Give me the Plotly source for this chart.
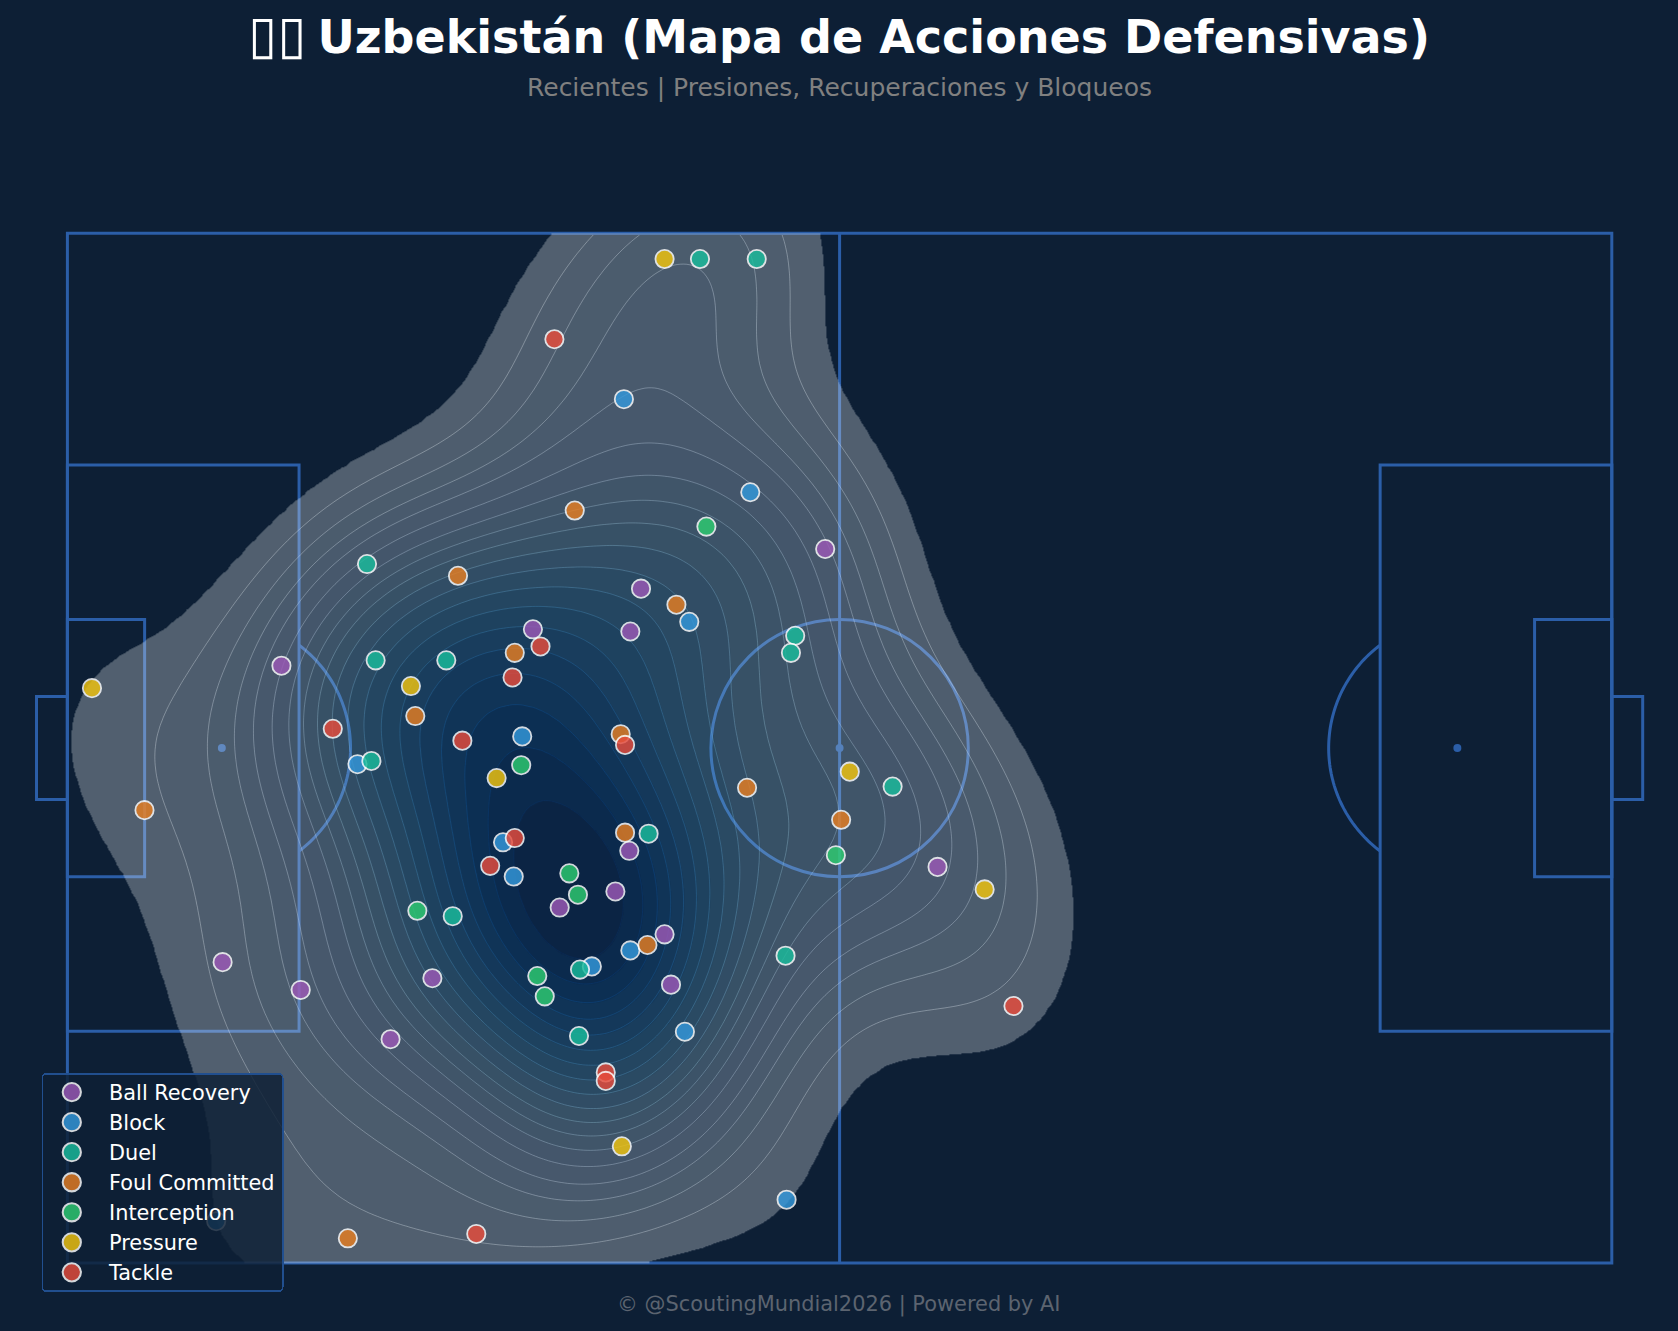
import numpy as np
import plotly.graph_objects as go

# ---------- data (pitch coordinates, StatsBomb 120 x 80) ----------
ball_recovery_x = [16.63, 36.17, 43.74, 44.57, 58.88, 43.66, 42.58, 38.25, 46.40, 46.90, 28.36, 18.13, 12.06, 25.11, 67.61]
ball_recovery_y = [33.60, 30.77, 30.94, 27.61, 24.53, 47.98, 51.14, 52.39, 54.47, 58.38, 57.88, 58.79, 56.63, 62.62, 49.23]
block_x = [43.24, 53.06, 48.32, 35.34, 22.54, 33.85, 34.68, 43.74, 40.75, 47.98, 55.88, 11.56]
block_y = [12.89, 20.12, 30.19, 39.09, 41.25, 47.32, 49.98, 55.72, 56.96, 62.04, 75.09, 76.76]
duel_x = [49.15, 53.56, 23.28, 56.55, 56.22, 23.95, 29.44, 23.62, 64.12, 45.16, 29.94, 55.80, 39.83, 39.75]
duel_y = [2.0, 2.0, 25.70, 31.27, 32.60, 33.18, 33.18, 41.00, 42.99, 46.65, 53.06, 56.13, 57.21, 62.37]
foul_x = [39.42, 30.35, 47.32, 34.76, 27.03, 42.99, 52.81, 5.99, 60.12, 43.33, 45.07, 21.79]
foul_y = [21.54, 26.61, 28.86, 32.60, 37.51, 38.92, 43.08, 44.82, 45.57, 46.57, 55.30, 78.09]
interception_x = [49.65, 35.26, 59.71, 39.00, 39.67, 27.19, 36.51, 37.09]
interception_y = [22.79, 41.33, 48.32, 49.73, 51.39, 52.64, 57.71, 59.29]
pressure_x = [46.40, 1.91, 26.69, 33.35, 60.79, 71.27, 43.08]
pressure_y = [2.0, 35.34, 35.18, 42.33, 41.83, 50.98, 70.94]
tackle_x = [37.84, 36.76, 34.59, 20.62, 30.69, 43.33, 34.76, 32.85, 73.51, 41.83, 41.83, 31.77]
tackle_y = [8.23, 32.10, 34.51, 38.50, 39.42, 39.75, 46.99, 49.15, 60.04, 65.20, 65.86, 77.75]

series = [
    ("Ball Recovery", ball_recovery_x, ball_recovery_y, "#9b59b6"),
    ("Block", block_x, block_y, "#3498db"),
    ("Duel", duel_x, duel_y, "#1abc9c"),
    ("Foul Committed", foul_x, foul_y, "#e67e22"),
    ("Interception", interception_x, interception_y, "#2ecc71"),
    ("Pressure", pressure_x, pressure_y, "#f1c40f"),
    ("Tackle", tackle_x, tackle_y, "#e74c3c"),
]

TITLE = ('<span style="font-size:53px">\u25AF\u25AF</span><span style="font-size:32px"> </span>'
         "Uzbekistán (Mapa de Acciones Defensivas)")
SUBTITLE = "Recientes | Presiones, Recuperaciones y Bloqueos"
FOOTER = "© @ScoutingMundial2026 | Powered by AI"

BG = "#0d1f35"
LINE = "#2b5ea8"
W, H = 1678, 1331
X0, Y0, S = 67.4, 233.3, 12.87   # pixel of pitch origin, px per unit
BLUES = ["#f7fbff", "#deebf7", "#c6dbef", "#9ecae1", "#6baed6", "#4292c6", "#2171b5", "#08519c", "#08306b"]
FILL_ALPHA = 0.29
EDGE_ALPHA = 0.37

# ---------- kernel density estimate of all actions (iso-proportion levels) ----------
px_all = np.concatenate([np.array(s[1]) for s in series])
py_all = np.concatenate([np.array(s[2]) for s in series])
n = len(px_all)
factor = n ** (-1 / 6)
cov = np.cov(np.vstack([px_all, py_all])) * factor ** 2
inv = np.linalg.inv(cov)
ex = np.linspace(0, 120, 481)
ey = np.linspace(0, 80, 321)
gx = (ex[:-1] + ex[1:]) / 2
gy = (ey[:-1] + ey[1:]) / 2
GX, GY = np.meshgrid(gx, gy)
dx = GX[..., None] - px_all
dy = GY[..., None] - py_all
dens = np.exp(-0.5 * (inv[0, 0] * dx ** 2 + 2 * inv[0, 1] * dx * dy + inv[1, 1] * dy ** 2)).sum(axis=2)
sv = np.sort(dens.ravel())
cm = np.cumsum(sv) / sv.sum()
zp = np.interp(dens, sv, cm)

start, step, n_levels = 0.05, 0.05, 19
props = start + step * np.arange(n_levels + 1)
lev = np.interp(props, cm, sv)
mids = (lev[:-1] + lev[1:]) / 2
t = (mids - mids[0]) / (mids[-1] - mids[0])


def rgba(frac, a):
    pos = frac * (len(BLUES) - 1)
    rgb = [tuple(int(c[i:i + 2], 16) for i in (1, 3, 5)) for c in BLUES]
    i = min(int(pos), len(BLUES) - 2)
    f = pos - i
    v = [rgb[i][k] + (rgb[i + 1][k] - rgb[i][k]) * f for k in range(3)]
    return f"rgba({v[0]:.0f},{v[1]:.0f},{v[2]:.0f},{a})"


# stepped colour scale on the proportion value (0..1): one flat colour per band
fill_scale = [[0, "rgba(247,251,255,0)"], [start, "rgba(247,251,255,0)"]]
for j in range(n_levels):
    lo, hi = props[j], props[j + 1]
    fill_scale += [[float(lo), rgba(t[j], FILL_ALPHA)], [float(hi), rgba(t[j], FILL_ALPHA)]]
line_scale = [[0, "rgba(247,251,255,0)"]] + [
    [j / (n_levels - 1), rgba(t[j], EDGE_ALPHA)] for j in range(1, n_levels)
]

fig = go.Figure()
fig.add_trace(go.Heatmap(
    x=ex, y=ey, z=np.round(zp, 5), zmin=0, zmax=1, zsmooth="best",
    colorscale=fill_scale, showscale=False, hoverinfo="skip", showlegend=False,
))
fig.add_trace(go.Contour(
    x=gx, y=gy, z=np.round(zp, 5), showscale=False, hoverinfo="skip", showlegend=False,
    colorscale=line_scale, autocontour=False,
    contours=dict(start=start, end=start + step * (n_levels - 1), size=step, coloring="lines"),
    line=dict(width=0.9),
))

for name, xs, ys, col in series:
    fig.add_trace(go.Scatter(
        x=xs, y=ys, mode="markers", name=name, legendgroup=name,
        marker=dict(size=18.3, color=col, opacity=0.82, line=dict(color="white", width=1.8)),
    ))

# ---------- pitch ----------
shapes = []
LW = 3


def rect(x0, y0, x1, y1):
    shapes.append(dict(type="rect", x0=x0, y0=y0, x1=x1, y1=y1, layer="below", line=dict(color=LINE, width=LW)))


def spot(cx):
    r = 0.31
    shapes.append(dict(type="circle", x0=cx - r, x1=cx + r, y0=40 - r, y1=40 + r, layer="below",
                       fillcolor=LINE, line=dict(width=0)))


def arc(cx, a0, a1):
    a = np.radians(np.linspace(a0, a1, 80))
    pts = [f"{cx + 10 * np.cos(v):.3f},{40 + 10 * np.sin(v):.3f}" for v in a]
    shapes.append(dict(type="path", path="M " + " L ".join(pts), layer="below", line=dict(color=LINE, width=LW)))


rect(0, 0, 120, 80)
rect(0, 18, 18, 62)
rect(102, 18, 120, 62)
rect(0, 30, 6, 50)
rect(114, 30, 120, 50)
rect(-2.4, 36, 0, 44)
rect(120, 36, 122.4, 44)
shapes.append(dict(type="line", x0=60, x1=60, y0=0, y1=80, layer="below", line=dict(color=LINE, width=LW)))
shapes.append(dict(type="circle", x0=50, x1=70, y0=30, y1=50, layer="below", line=dict(color=LINE, width=LW)))
for c in (12, 60, 108):
    spot(c)
ang = np.degrees(np.arccos(0.6))
arc(12, -ang, ang)
arc(108, 180 - ang, 180 + ang)


def ann(text, xpx, ypx, size, color, bold=False):
    return dict(text=f"<b>{text}</b>" if bold else text, x=xpx / W, y=1 - ypx / H, xref="paper", yref="paper",
                xanchor="center", yanchor="middle", showarrow=False,
                font=dict(size=size, color=color, family="DejaVu Sans"))


fig.update_layout(
    width=W, height=H, margin=dict(l=0, r=0, t=0, b=0, pad=0),
    paper_bgcolor=BG, plot_bgcolor=BG,
    font=dict(family="DejaVu Sans"),
    xaxis=dict(visible=False, range=[-X0 / S, (W - X0) / S], domain=[0, 1], fixedrange=True),
    yaxis=dict(visible=False, range=[(H - Y0) / S, -Y0 / S], domain=[0, 1], fixedrange=True),
    shapes=shapes,
    annotations=[
        ann(TITLE, 839, 34.3, 46, "white", True),
        ann(SUBTITLE, 839, 87.5, 25, "#808080"),
        ann(FOOTER, 839, 1304.5, 20.9, "#5c6470"),
    ],
    legend=dict(
        x=41.5 / W, y=1 - 1073 / H, xanchor="left", yanchor="top",
        bgcolor="rgba(13,31,53,0.83)", bordercolor="#214f8f", borderwidth=1.6,
        font=dict(size=20.8, color="white", family="DejaVu Sans"),
        itemwidth=56, itemsizing="trace", tracegroupgap=4.3, traceorder="normal",
    ),
)

POST = (
    "document.body.style.margin='0';document.body.style.background='" + BG + "';"
    "document.querySelectorAll('.legendpoints path').forEach(function(p){"
    "p.setAttribute('transform','translate(-4.3,0) '+(p.getAttribute('transform')||'')+' scale(1.14)');});"
    "var bg=document.querySelector('.legend .bg');"
    "bg.setAttribute('height',(+bg.getAttribute('height'))-5);"
    "bg.setAttribute('width',(+bg.getAttribute('width'))+2);"
    "bg.setAttribute('rx',4);bg.setAttribute('ry',4);"
    "document.querySelector('.legend .scrollbox').setAttribute('transform','translate(0,-2.5)');"
)
fig.write_html("out.html", config={"displayModeBar": False}, post_script=POST)
